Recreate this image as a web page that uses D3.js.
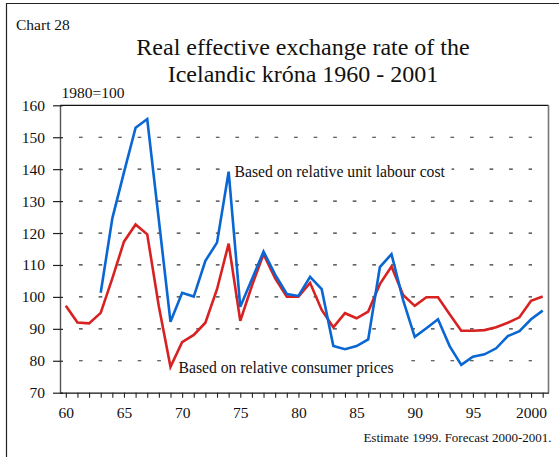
<!DOCTYPE html>
<html>
<head>
<meta charset="utf-8">
<script src="https://cdn.jsdelivr.net/npm/d3@7/dist/d3.min.js"></script>
<style>
  body { margin: 0; background: #fff; }
  text { font-family: "Liberation Serif", "Times New Roman", serif; fill: #111; }
</style>
</head>
<body>
<script>
var WIDTH = 559, HEIGHT = 457;

// data
var years = [1960,1961,1962,1963,1964,1965,1966,1967,1968,1969,
             1970,1971,1972,1973,1974,1975,1976,1977,1978,1979,
             1980,1981,1982,1983,1984,1985,1986,1987,1988,1989,
             1990,1991,1992,1993,1994,1995,1996,1997,1998,1999,
             2000,2001];
var unitLabourCost = [null,null,null,101.3,124.6,139,153,155.7,124,92.2,
                      101.3,100.1,111.3,117,139.2,96.9,105.5,114.2,107,100.9,
                      100.3,106.3,102.4,84.6,83.6,84.6,86.7,109.3,113.4,99,
                      87.5,90.2,93,84.6,78.7,81.3,82,83.9,87.7,89.3,
                      93,95.7];
var consumerPrices = [97.2,92,91.7,95,105.8,117.3,122.7,119.6,97,78.1,
                      85.8,88.1,91.9,102.4,116.7,92.5,103.5,113.4,105.8,100.1,
                      100.1,104.4,95.9,90.5,94.9,93.3,95.4,104,109.5,100.6,
                      97.2,99.9,99.9,94.6,89.4,89.4,89.6,90.5,91.9,93.6,
                      98.8,100.1];
var yTicks = [70,80,90,100,110,120,130,140,150,160];
var gridValues = [80,90,100,110,120,130,140,150];
var xLabelYears = [1960,1965,1970,1975,1980,1985,1990,1995,2000];
var xLabels = ["60","65","70","75","80","85","90","95","2000"];

var svg = d3.select("body").append("svg")
    .attr("width", WIDTH)
    .attr("height", HEIGHT);

svg.append("rect").attr("width", WIDTH).attr("height", HEIGHT).attr("fill", "#fff");

// outer frame (cut by the picture on the right and bottom)
svg.append("path")
    .attr("d", "M6.5," + HEIGHT + "V3.5H" + WIDTH)
    .attr("fill", "none").attr("stroke", "#222").attr("stroke-width", 1.2);

var xScale = d3.scaleLinear().domain([1959.5, 2001.5]).range([60, 548.5]);
var yScale = d3.scaleLinear().domain([70, 160]).range([392.7, 105.3]);

// titles
svg.append("text").attr("x", 16).attr("y", 30).style("font-size", "15.5px").text("Chart 28");
svg.append("text").attr("x", 303).attr("y", 55).attr("text-anchor", "middle")
    .style("font-size", "24px").text("Real effective exchange rate of the");
svg.append("text").attr("x", 303).attr("y", 82).attr("text-anchor", "middle")
    .style("font-size", "24px").text("Icelandic kr\u00f3na 1960 - 2001");
svg.append("text").attr("x", 61.5).attr("y", 98).style("font-size", "15.5px").text("1980=100");

// dashed gridlines
svg.append("g").selectAll("line").data(gridValues).enter().append("line")
    .attr("x1", 79).attr("x2", 532)
    .attr("y1", function(d){ return yScale(d); })
    .attr("y2", function(d){ return yScale(d); })
    .attr("stroke", "#333").attr("stroke-width", 1.2)
    .attr("stroke-dasharray", "3.7,15.85");

// top and right frame of the plot
svg.append("line").attr("x1", 60).attr("x2", 548.5)
    .attr("y1", yScale(160)).attr("y2", yScale(160))
    .attr("stroke", "#111").attr("stroke-width", 1.2);
svg.append("line").attr("x1", 548.5).attr("x2", 548.5)
    .attr("y1", yScale(160)).attr("y2", yScale(70))
    .attr("stroke", "#777").attr("stroke-width", 1.6);

// left axis
var gy = svg.append("g").attr("transform", "translate(60,0)")
    .call(d3.axisLeft(yScale).tickValues(yTicks).tickSize(7).tickSizeOuter(0).tickPadding(8));
gy.select(".domain").attr("stroke", "#555").attr("stroke-width", 1.4);
gy.selectAll(".tick line").attr("x1", 3).attr("stroke", "#222").attr("stroke-width", 1.2);
gy.selectAll(".tick text").style("font-size", "15.5px")
    .style("font-family", "Liberation Serif, serif").attr("fill", "#111");

// bottom axis
var gx = svg.append("g").attr("transform", "translate(0," + yScale(70) + ")")
    .call(d3.axisBottom(xScale).tickValues(years).tickSize(5).tickSizeOuter(0).tickPadding(9)
        .tickFormat(function(d){
            var i = xLabelYears.indexOf(d);
            return i < 0 ? "" : xLabels[i];
        }));
gx.select(".domain").attr("stroke", "#111").attr("stroke-width", 1.2);
gx.selectAll(".tick line").attr("stroke", "#222").attr("stroke-width", 1.1);
gx.selectAll(".tick text").style("font-size", "15.5px")
    .style("font-family", "Liberation Serif, serif").attr("fill", "#111");

// series labels with white boxes over the grid
var addLabel = function(x, y, txt){
    var g = svg.append("g");
    var r = g.append("rect").attr("fill", "#fff");
    var t = g.append("text").attr("x", x).attr("y", y).style("font-size", "15.7px").text(txt);
    var b = t.node().getBBox();
    r.attr("x", b.x - 4).attr("y", b.y).attr("width", b.width + 10).attr("height", b.height);
};
addLabel(234.5, 177, "Based on relative unit labour cost");
addLabel(178.5, 372.5, "Based on relative consumer prices");

// lines
var line = function(values){
    return d3.line()
        .defined(function(d, i){ return values[i] != null; })
        .x(function(d){ return xScale(d); })
        .y(function(d, i){ return yScale(values[i]); })(years);
};
svg.append("path").attr("d", line(consumerPrices))
    .attr("fill", "none").attr("stroke", "#d82222").attr("stroke-width", 2.6)
    .attr("stroke-linejoin", "miter");
svg.append("path").attr("d", line(unitLabourCost))
    .attr("fill", "none").attr("stroke", "#0a66d2").attr("stroke-width", 2.6)
    .attr("stroke-linejoin", "miter");

// footnote
svg.append("text").attr("x", 551.5).attr("y", 441.5).attr("text-anchor", "end")
    .style("font-size", "13px").text("Estimate 1999. Forecast 2000-2001.");
</script>
</body>
</html>
